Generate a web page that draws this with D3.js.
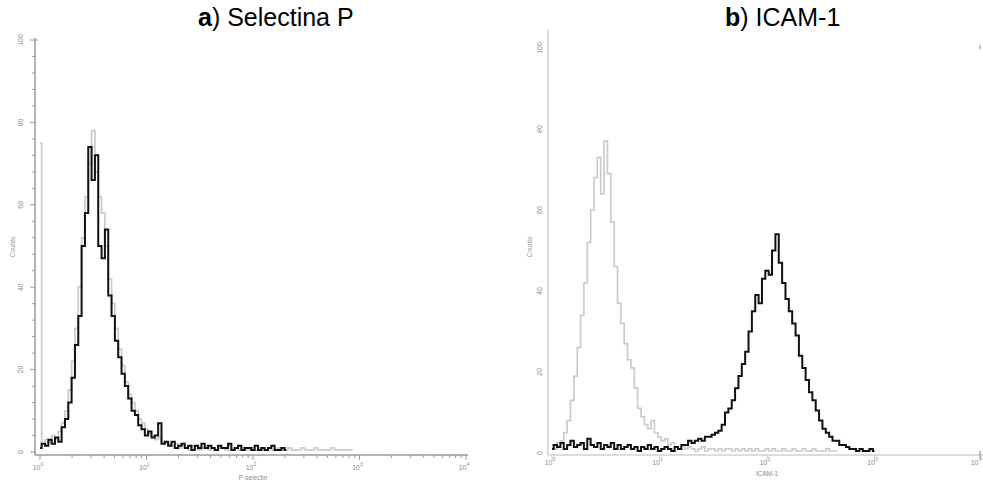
<!DOCTYPE html>
<html>
<head>
<meta charset="utf-8">
<script src="https://cdn.jsdelivr.net/npm/d3@7/dist/d3.min.js"></script>
<style>
  body { margin: 0; background: #fff; }
  svg { display: block; font-family: "Liberation Sans", Arial, sans-serif; }
</style>
</head>
<body>
<div id="board"></div>
<script>
// log amp histograms: 256 channels per decade, 8 channels per bin
var binWidth = 8;
var chPerDecade = 256;

// a) Selectina P
var selectinGray = [75, 2, 3, 2.5, 4, 3, 5, 7, 10, 15, 22, 30, 40, 52, 62, 70, 78, 68, 62, 58,
  50, 42, 36, 30, 25, 21, 17, 14, 12, 10, 8, 7, 5.5, 4.5, 4, 3, 3.5, 2.5, 2, 2,
  1.5, 2, 1, 1.5, 1, 0.5, 1.5, 1, 0.5, 1, 1.5, 0.5, 1, 0.5, 1, 1, 0.5, 1.5, 0.5, 1,
  0.5, 1, 0.5, 0.5, 1, 0.5, 1, 0.5, 0.5, 1, 0.5, 0.5, 1, 0.5, 0.5, 1, 0.5, 0.5, 0.5, 1,
  0.5, 0.5, 0.5, 1, 0.5, 0.5, 0.5, 0.5, 1, 0.5, 0.5, 0.5, 0.5, 0.5, 0.5];
var selectinBlack = [1, 2, 1.5, 3, 2, 3.5, 2.5, 6, 8, 12, 18, 26, 33, 50, 58, 74, 66, 72, 50, 47,
  54, 38, 33, 27, 23, 19, 16, 13, 10, 9, 6.5, 5.5, 4, 5, 3.5, 4, 7, 2, 2.5, 1.5,
  2.5, 1, 1.5, 2, 1, 1.5, 0.5, 1.5, 1, 2, 1, 1.5, 1, 0.5, 1.5, 1, 1, 2, 0.5, 1,
  1.5, 0.5, 1, 1, 0.5, 1.5, 0.5, 1, 0.5, 1, 1.5, 0.5, 0.5, 1, 0.5];

// b) ICAM-1
var icamGray = [2, 1, 2.5, 3, 5, 8, 13, 19, 26, 34, 42, 52, 60, 68, 73, 64, 77, 69, 57, 46,
  37, 32, 27, 23, 21, 16, 11, 9, 7, 6, 8, 5, 4, 3, 3.5, 2, 2.5, 1.5, 1, 2,
  1, 1.5, 1, 0.5, 1, 1.5, 0.5, 1, 1, 0.5, 1, 0.5, 1, 1, 0.5, 1, 0.5, 1, 0.5, 1,
  0.5, 1, 0.5, 0.5, 1, 0.5, 1, 0.5, 0.5, 1, 0.5, 0.5, 1, 0.5, 0.5, 1, 0.5, 0.5, 1, 0.5,
  0.5, 0.5, 1, 0.5, 0.5, 0.5];
var icamBlack = [1, 2, 1.5, 2.5, 1, 2, 3, 1.5, 2, 2.5, 1, 3.5, 2, 1.5, 2.5, 1, 2, 1.5, 2.5, 1,
  2, 1, 1.5, 2, 1, 1.5, 0.5, 1.5, 1, 2, 1, 1.5, 0.5, 1, 1.5, 1, 0.5, 1.5, 1, 2,
  2, 3, 2.5, 3, 3.5, 3, 4, 4, 4.5, 5, 5.5, 7, 10, 11, 13, 16, 19, 22, 25, 30,
  35, 39, 37, 43, 45, 44, 50, 54, 47, 42, 38, 35, 32, 29, 24, 21, 18, 15, 13, 10.5,
  8, 6, 5, 4, 3, 3, 2, 2, 1.5, 1, 1, 0.5, 1, 0.5, 0.5, 1, 0.5];

var countTicks = [0, 20, 40, 60, 80, 100];
var decadeTicks = [1, 10, 100, 1000, 10000];
var decadeExp = ['0', '1', '2', '3', '4'];

var panels = [
  { title: 'a', name: ') Selectina P', titleX: 198, xLabel: 'P-selectin', xLabelY: 480, tickLabelY: 470,
    left: 40, right: 466, bottom: 452, top: 40, yAxisX: 35, axisY: 455, labelX: 23, countsX: 15,
    axisColor: '#9a9a9a', minor: true, gray: selectinGray, black: selectinBlack },
  { title: 'b', name: ') ICAM-1', titleX: 725, xLabel: 'ICAM-1', xLabelY: 476, tickLabelY: 465,
    left: 552, right: 982, bottom: 453, top: 48, yAxisX: 548, axisY: 455, labelX: 542, countsX: 532,
    axisColor: '#d0d0d0', minor: false, gray: icamGray, black: icamBlack }
];

var svg = d3.select('#board').append('svg')
  .attr('width', 983)
  .attr('height', 482);

var drawPanel = function(p) {
  var g = svg.append('g');
  var x = d3.scaleLog().domain([1, 10000]).range([p.left, p.right]);
  var y = d3.scaleLinear().domain([0, 100]).range([p.bottom, p.top]);

  var binX = function(i) {
    return x(Math.pow(10, i * binWidth / chPerDecade));
  };

  var line = d3.line()
    .x(function(d, i) { return binX(i); })
    .y(function(d) { return y(d); })
    .curve(d3.curveStep);

  // title
  var t = g.append('text')
    .attr('x', p.titleX)
    .attr('y', 26)
    .attr('font-size', 25)
    .attr('fill', '#000');
  t.append('tspan').attr('font-weight', 'bold').text(p.title);
  t.append('tspan').text(p.name);

  // y axis
  var yTop = p.minor ? y(100) - 2 : 30;
  g.append('line')
    .attr('x1', p.yAxisX).attr('x2', p.yAxisX)
    .attr('y1', yTop).attr('y2', p.axisY)
    .attr('stroke', p.axisColor)
    .attr('stroke-width', 1.5);

  if (p.minor) {
    g.selectAll('.ytick')
      .data(d3.range(0, 101, 4))
      .enter().append('line')
      .attr('x1', function(d) { return d % 20 === 0 ? p.yAxisX - 5 : p.yAxisX - 3; })
      .attr('x2', function(d) { return d === 100 ? p.yAxisX + 3 : p.yAxisX; })
      .attr('y1', function(d) { return y(d); })
      .attr('y2', function(d) { return y(d); })
      .attr('stroke', p.axisColor);
  }

  g.selectAll('.ylab')
    .data(countTicks)
    .enter().append('text')
    .attr('x', p.labelX)
    .attr('y', function(d) { return y(d); })
    .attr('transform', function(d) { return 'rotate(-90,' + p.labelX + ',' + y(d) + ')'; })
    .attr('text-anchor', 'middle')
    .attr('font-size', 7)
    .attr('fill', '#8a8a8a')
    .text(function(d) { return d; });

  g.append('text')
    .attr('x', p.countsX)
    .attr('y', 247)
    .attr('transform', 'rotate(-90,' + p.countsX + ',247)')
    .attr('text-anchor', 'middle')
    .attr('font-size', 6.5)
    .attr('fill', '#9a9a9a')
    .text('Counts');

  // x axis
  g.append('line')
    .attr('x1', p.yAxisX).attr('x2', p.right + 2)
    .attr('y1', p.axisY).attr('y2', p.axisY)
    .attr('stroke', p.axisColor)
    .attr('stroke-width', 1.5);

  if (p.minor) {
    var minors = [];
    decadeTicks.slice(0, 4).forEach(function(d) {
      d3.range(2, 10).forEach(function(k) { minors.push(d * k); });
    });
    g.selectAll('.xminor')
      .data(minors)
      .enter().append('line')
      .attr('x1', function(d) { return x(d); })
      .attr('x2', function(d) { return x(d); })
      .attr('y1', p.axisY).attr('y2', p.axisY + 3)
      .attr('stroke', p.axisColor);
  }

  g.selectAll('.xtick')
    .data(decadeTicks)
    .enter().append('line')
    .attr('x1', function(d) { return x(d); })
    .attr('x2', function(d) { return x(d); })
    .attr('y1', p.axisY).attr('y2', p.axisY + 5)
    .attr('stroke', p.axisColor);

  var xl = g.selectAll('.xlab')
    .data(decadeTicks)
    .enter().append('text')
    .attr('x', function(d) { return Math.min(x(d) - 2, 976); })
    .attr('y', p.tickLabelY)
    .attr('text-anchor', 'middle')
    .attr('font-size', 7)
    .attr('fill', '#8a8a8a');
  xl.append('tspan').text('10');
  xl.append('tspan')
    .attr('dy', -4)
    .attr('font-size', 5)
    .text(function(d, i) { return decadeExp[i]; });

  g.append('text')
    .attr('x', (p.left + p.right) / 2)
    .attr('y', p.xLabelY)
    .attr('text-anchor', 'middle')
    .attr('font-size', 6.5)
    .attr('fill', '#8a8a8a')
    .text(p.xLabel);

  if (!p.minor) {
    // small corner marks at right edge
    g.append('line').attr('x1', 980).attr('x2', 980).attr('y1', 45).attr('y2', 49)
      .attr('stroke', '#aaa').attr('stroke-width', 1.5);
    g.append('line').attr('x1', 980).attr('x2', 980).attr('y1', 451).attr('y2', 458)
      .attr('stroke', '#aaa').attr('stroke-width', 1.5);
  }

  // histograms
  g.append('path')
    .datum(p.gray)
    .attr('d', line)
    .attr('fill', 'none')
    .attr('stroke', '#cbcbcb')
    .attr('stroke-width', 1.7);

  g.append('path')
    .datum(p.black)
    .attr('d', line)
    .attr('fill', 'none')
    .attr('stroke', '#111')
    .attr('stroke-width', 2);
};

panels.forEach(drawPanel);
</script>
</body>
</html>
